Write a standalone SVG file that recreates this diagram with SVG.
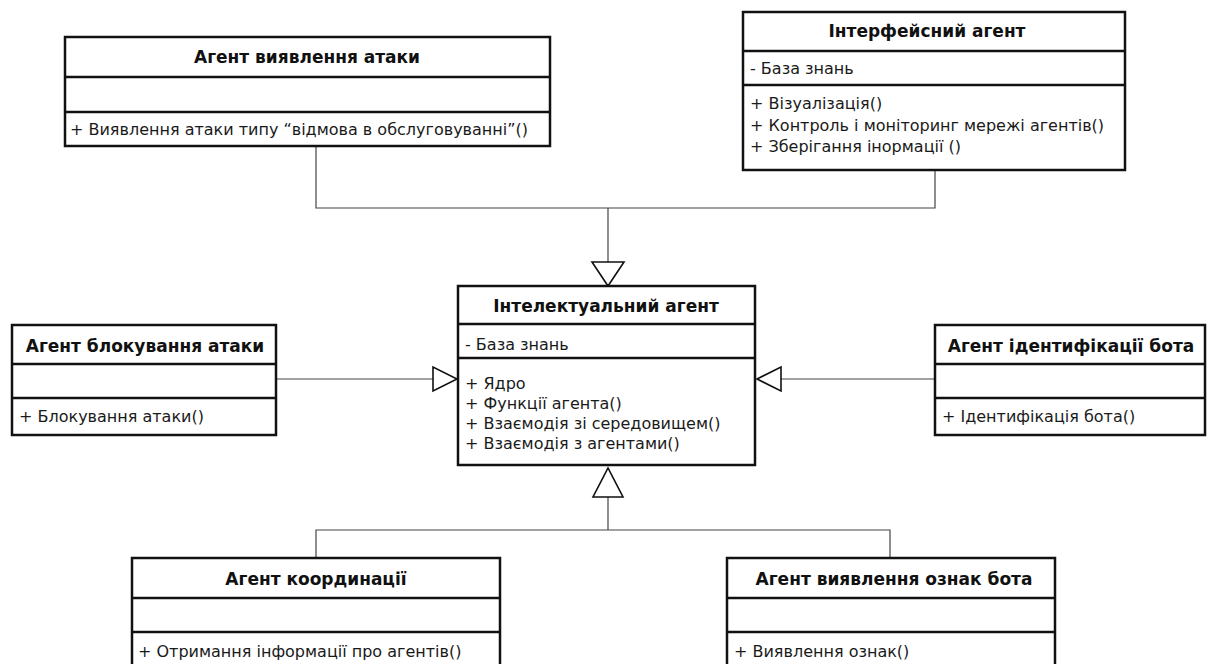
<svg xmlns="http://www.w3.org/2000/svg" width="1210" height="664" viewBox="0 0 1210 664">
  <style>
    .box { fill: #fff; stroke: #111; stroke-width: 2.5; }
    .div { stroke: #111; stroke-width: 2.5; }
    .title { font-family: "DejaVu Sans", "Noto Sans", sans-serif; font-size: 17px; font-weight: bold; fill: #111; text-anchor: middle; }
    .item { font-family: "DejaVu Sans", "Noto Sans", sans-serif; font-size: 16px; fill: #1a1a1a; }
    .wire { fill: none; stroke: #444; stroke-width: 1.2; }
    .head { fill: #fff; stroke: #111; stroke-width: 1.6; }
  </style>
  <rect width="1210" height="664" fill="#fff"/>

  <!-- generalisation connectors -->
  <g id="connectors">
    <polyline class="wire" points="316,146 316,208 935,208 935,170"/>
    <line class="wire" x1="608" y1="208" x2="608" y2="262"/>
    <polygon class="head" points="592,262 624,262 608,286"/>
    <line class="wire" x1="276" y1="379" x2="433" y2="379"/>
    <polygon class="head" points="433,367 433,391 457,379"/>
    <line class="wire" x1="935" y1="379" x2="781" y2="379"/>
    <polygon class="head" points="781,367 781,391 757,379"/>
    <polyline class="wire" points="316,558 316,530 890,530 890,558"/>
    <line class="wire" x1="608" y1="530" x2="608" y2="497"/>
    <polygon class="head" points="593,497 623,497 608,468"/>
  </g>

  <g id="attack-detection">
    <rect class="box" x="65" y="37" width="485" height="109"/>
    <line class="div" x1="65" y1="77" x2="550" y2="77"/>
    <line class="div" x1="65" y1="112" x2="550" y2="112"/>
    <text class="title" x="307" y="63">Агент виявлення атаки</text>
    <text class="item" x="70" y="135">+ Виявлення атаки типу “відмова в обслуговуванні”()</text>
  </g>

  <g id="interface-agent">
    <rect class="box" x="743" y="12" width="382" height="158"/>
    <line class="div" x1="743" y1="51" x2="1125" y2="51"/>
    <line class="div" x1="743" y1="85" x2="1125" y2="85"/>
    <text class="title" x="927" y="37">Інтерфейсний агент</text>
    <text class="item" x="750" y="74">- База знань</text>
    <text class="item" x="750" y="109">+ Візуалізація()</text>
    <text class="item" x="750" y="131">+ Контроль і моніторинг мережі агентів()</text>
    <text class="item" x="750" y="152">+ Зберігання інормації ()</text>
  </g>

  <g id="intelligent-agent">
    <rect class="box" x="458" y="286" width="297" height="179"/>
    <line class="div" x1="458" y1="324" x2="755" y2="324"/>
    <line class="div" x1="458" y1="358" x2="755" y2="358"/>
    <text class="title" x="606" y="312">Інтелектуальний агент</text>
    <text class="item" x="465" y="350">- База знань</text>
    <text class="item" x="465" y="389">+ Ядро</text>
    <text class="item" x="465" y="409">+ Функції агента()</text>
    <text class="item" x="465" y="429">+ Взаємодія зі середовищем()</text>
    <text class="item" x="465" y="449">+ Взаємодія з агентами()</text>
  </g>

  <g id="attack-blocking">
    <rect class="box" x="12" y="325" width="264" height="110"/>
    <line class="div" x1="12" y1="364" x2="276" y2="364"/>
    <line class="div" x1="12" y1="398" x2="276" y2="398"/>
    <text class="title" x="145" y="352">Агент блокування атаки</text>
    <text class="item" x="19" y="422">+ Блокування атаки()</text>
  </g>

  <g id="bot-identification">
    <rect class="box" x="935" y="325" width="270" height="110"/>
    <line class="div" x1="935" y1="364" x2="1205" y2="364"/>
    <line class="div" x1="935" y1="398" x2="1205" y2="398"/>
    <text class="title" x="1071" y="352">Агент ідентифікації бота</text>
    <text class="item" x="942" y="422">+ Ідентифікація бота()</text>
  </g>

  <g id="coordination">
    <rect class="box" x="132" y="558" width="368" height="120"/>
    <line class="div" x1="132" y1="598" x2="500" y2="598"/>
    <line class="div" x1="132" y1="632" x2="500" y2="632"/>
    <text class="title" x="316" y="585">Агент координації</text>
    <text class="item" x="138" y="657">+ Отримання інформації про агентів()</text>
  </g>

  <g id="bot-features">
    <rect class="box" x="727" y="558" width="328" height="120"/>
    <line class="div" x1="727" y1="598" x2="1055" y2="598"/>
    <line class="div" x1="727" y1="632" x2="1055" y2="632"/>
    <text class="title" x="894" y="585">Агент виявлення ознак бота</text>
    <text class="item" x="734" y="657">+ Виявлення ознак()</text>
  </g>
</svg>
